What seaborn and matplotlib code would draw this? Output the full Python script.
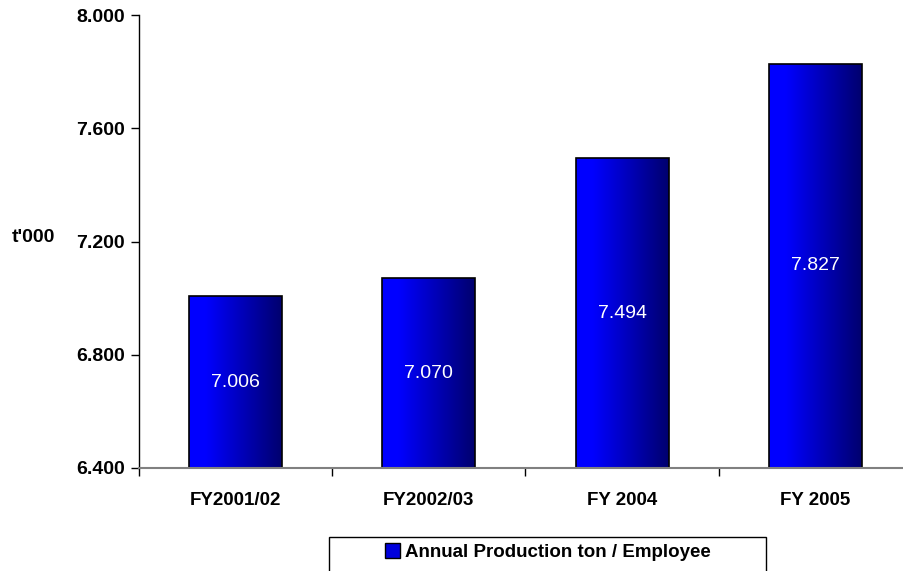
import numpy as np
import pandas as pd
import seaborn as sns
import matplotlib.pyplot as plt
from matplotlib.colors import LinearSegmentedColormap
from matplotlib.patches import Rectangle
from matplotlib.ticker import FormatStrFormatter

# data
categories = ['FY2001/02', 'FY2002/03', 'FY 2004', 'FY 2005']
values = [7.006, 7.070, 7.494, 7.827]
series_name = 'Annual Production ton / Employee'
y_ticks = [6.4, 6.8, 7.2, 7.6, 8.0]

df = pd.DataFrame({'year': categories, 'value': values})

sns.set_style('white')
plt.rcParams['font.family'] = ['Liberation Sans', 'DejaVu Sans']
plt.rcParams['text.color'] = 'black'
plt.rcParams['axes.labelcolor'] = 'black'
plt.rcParams['xtick.color'] = 'black'
plt.rcParams['ytick.color'] = 'black'

W, H = 904, 571
fig = plt.figure(figsize=(W / 100, H / 100), dpi=100)
ax = fig.add_axes([139 / W, 1 - 468 / H, 773 / W, 453 / H])

sns.barplot(data=df, x='year', y='value', width=0.48, color='#0000ff',
            edgecolor='black', linewidth=1.2, ax=ax)

ymin = y_ticks[0]
ax.set_ylim(ymin, y_ticks[-1])
ax.set_xlim(-0.5, len(categories) - 0.5)

# left-to-right blue gradient inside every bar
grad_cmap = LinearSegmentedColormap.from_list(
    'bluegrad', [(0, '#0000ff'), (0.18, '#0000ff'), (1.0, '#00006e')])
grad = np.linspace(0, 1, 256).reshape(1, -1)
for bar in ax.patches:
    # bars start at the axis bottom so the gradient stays inside the axes
    top = bar.get_y() + bar.get_height()
    bar.set_y(ymin)
    bar.set_height(top - ymin)
    x0, x1 = bar.get_x(), bar.get_x() + bar.get_width()
    im = ax.imshow(grad, cmap=grad_cmap, aspect='auto', extent=[x0, x1, ymin, top],
                   zorder=bar.get_zorder() - 0.1, interpolation='bilinear')
    im.set_clip_path(bar)
    bar.set_facecolor('none')

ax.set_ylim(ymin, y_ticks[-1])
ax.set_xlim(-0.5, len(categories) - 0.5)

# value labels in the middle of the visible bar
for i, v in enumerate(values):
    ax.text(i, (ymin + v) / 2, f'{v:.3f}', ha='center', va='center',
            color='white', fontsize=14)

ax.set_yticks(y_ticks)
ax.yaxis.set_major_formatter(FormatStrFormatter('%.3f'))
ax.tick_params(axis='y', left=True, length=6, width=1, color='black',
               labelcolor='black', labelsize=14, pad=4)
for lab in ax.get_yticklabels():
    lab.set_fontweight('bold')

ax.set_xticks(range(len(categories)))
ax.set_xticklabels(categories, fontweight='bold', fontsize=13.5)
ax.tick_params(axis='x', which='major', length=0, pad=17, labelcolor='black')
ax.set_xticks(np.arange(-0.5, len(categories), 1), minor=True)
ax.tick_params(axis='x', which='minor', bottom=True, length=6, width=1, color='black')

ax.set_xlabel('')
ax.set_ylabel("t'000", rotation=0, fontweight='bold', fontsize=14, color='black')
ax.yaxis.set_label_coords(-0.137, 0.49)

sns.despine(ax=ax, top=True, right=True)
ax.spines['left'].set_color('black')
ax.spines['left'].set_linewidth(1)
ax.spines['bottom'].set_color('#808080')
ax.spines['bottom'].set_linewidth(1.5)

# legend box at the bottom, partly cut off like the original
fig.patches.append(Rectangle((329 / W, 1 - 590 / H), 437 / W, 53 / H,
                             transform=fig.transFigure, fill=False,
                             edgecolor='black', linewidth=1))
handle = Rectangle((0, 0), 1, 1, facecolor='#0000dd', edgecolor='black', linewidth=1)
fig.legend([handle], [series_name], loc='center', frameon=False,
           bbox_to_anchor=(548 / W, 1 - 552 / H),
           prop={'weight': 'bold', 'size': 13.5}, labelcolor='black',
           handlelength=0.8, handleheight=0.8, handletextpad=0.3)

fig.savefig('out.png', dpi=100)
